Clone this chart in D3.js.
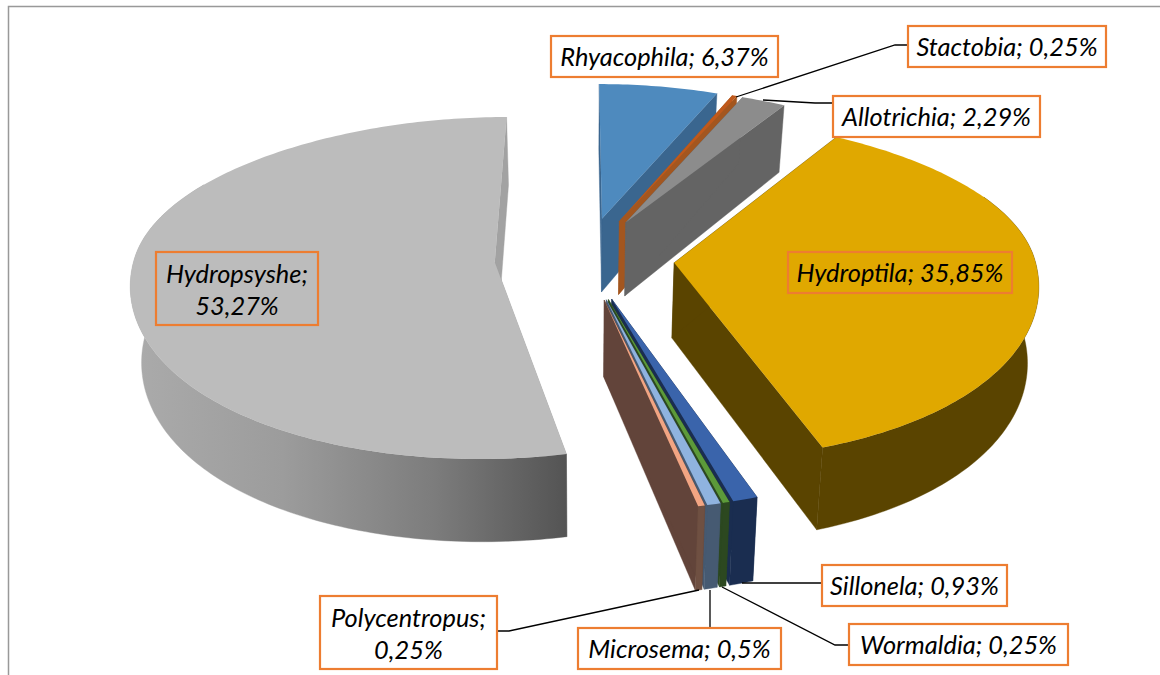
<!DOCTYPE html>
<html><head><meta charset="utf-8">
<script src="https://cdn.jsdelivr.net/npm/d3@7/dist/d3.min.js"></script>
<style>html,body{margin:0;padding:0;background:#fff}svg{display:block}</style>
</head><body><svg id="c" width="1160" height="675"></svg>
<script>
const names=["Rhyacophila","Stactobia","Allotrichia","Hydroptila","Sillonela","Wormaldia","Microsema","Polycentropus","Hydropsyshe"];
const values=[6.37,0.25,2.29,35.85,0.93,0.25,0.5,0.25,53.27];
const valueLabels=["6,37%","0,25%","2,29%","35,85%","0,93%","0,25%","0,5%","0,25%","53,27%"];
const topColors=["#4E8ABE","#C0591B","#8C8C8C","#E0A800","#3A64AB","#5C9A3A","#8FB3DF","#F2A583","#BCBCBC"];
const sideColors=["#3A668F","#A3561F","#646464","#5A4400","#1A2D50","#2C4820","#465A72","#6F5042","url(#hg)"];
const wallColors=["#3A668F","#A3561F","#646464","#5A4400","#1A2D50","#2C4820","#465A72","#62443A","#A2A2A2"];
const drawOrder=[8,0,1,2,3,4,5,6,7];
// label boxes: [x,y,w,h], separate from the data
const boxes=[[551,36,227,41],[908,26,198,41],[833,96,207,41],[788,252,224,41],[822,565,185,41],[849,624,219,41],[578,628,203,41],[320,596,177,73],[156,252,162,73]];
const twoLine=[false,false,false,false,false,false,false,true,true];
const leaders=[null,[[908,45],[895,45],[736,97]],[[833,103],[815,103],[763,100]],null,[[822,583],[742,583]],[[849,645],[835,645],[722,587]],[[710,628],[710,590]],[[497,631],[509,631],[699,590]],null];

const cx=584.5,cy=258,R=360.5,explode=90,k=0.46,p=0.15,h=75,zShrink=0.025;
const rad=d=>d*Math.PI/180, frontFrom=rad(65), frontTo=rad(300);
const persp=(V,q)=>1/(1-q*V/R);
const sxOf=V=>{const u=V/R;return 1+0.094*u+(V<0?-0.04:0.07)*u*u;};
function proj(X,V,z){ // z: 0 top surface, 1 bottom surface
  return [cx+X*sxOf(V)*(1-zShrink*z), cy+k*V*persp(V,p)+z*h*(1+0.1*V/R)];
}
const svg=d3.select("#c");
const defs=svg.append("defs");
const g=defs.append("linearGradient").attr("id","hg").attr("gradientUnits","userSpaceOnUse")
  .attr("x1",130).attr("x2",566).attr("y1",0).attr("y2",0);
[[0,"#ABABAB"],[0.35,"#9C9C9C"],[0.7,"#7C7C7C"],[1,"#545454"]].forEach(d=>g.append("stop").attr("offset",d[0]).attr("stop-color",d[1]));

svg.append("path").attr("d","M8.5,675V6.5H1160").attr("fill","none").attr("stroke","#999").attr("stroke-width",1.5);

const arcs=d3.pie().sort(null).value(d=>d)(values);
const line=d3.line();
const pg=pts=>line(pts)+"Z";
const layer=svg.append("g");
drawOrder.forEach(i=>{
  const a=arcs[i],mid=(a.startAngle+a.endAngle)/2;
  const ox=explode*Math.sin(mid),ov=-explode*Math.cos(mid);
  const n=Math.max(3,Math.ceil((a.endAngle-a.startAngle)*60));
  const ang=d3.range(n+1).map(j=>d3.interpolateNumber(a.startAngle,a.endAngle)(j/n));
  const pt=(t,z)=>proj(ox+R*Math.sin(t),ov-R*Math.cos(t),z);
  const rt=ang.map(t=>pt(t,0));
  const apex=z=>proj(ox,ov,z);
  const G=layer.append("g").attr("class","slice").attr("data-name",names[i]);
  // radial walls
  G.append("path").attr("d",pg([apex(0),pt(a.endAngle,0),pt(a.endAngle,1),apex(1)])).attr("fill",wallColors[i]).attr("stroke",wallColors[i]).attr("stroke-width",0.4);
  G.append("path").attr("d",pg([apex(0),pt(a.startAngle,0),pt(a.startAngle,1),apex(1)])).attr("fill",wallColors[i]).attr("stroke",wallColors[i]).attr("stroke-width",0.4);
  // outer wall: only the part of the rim that faces the viewer
  const fr=ang.filter(t=>t>=frontFrom&&t<=frontTo);
  if(fr.length>1){
    G.append("path").attr("d",pg(fr.map(t=>pt(t,0)).concat(fr.slice().reverse().map(t=>pt(t,1))))).attr("fill",sideColors[i]).attr("stroke",sideColors[i]).attr("stroke-width",0.4);
  }
  // top
  G.append("path").attr("d",pg([apex(0)].concat(rt))).attr("fill",topColors[i]);
});

leaders.forEach(l=>{ if(l) svg.append("path").attr("d",line(l)).attr("fill","none").attr("stroke","#000").attr("stroke-width",1.3);});

names.forEach((nm,i)=>{
  const b=boxes[i];
  svg.append("rect").attr("x",b[0]).attr("y",b[1]).attr("width",b[2]).attr("height",b[3])
    .attr("fill",(i===3||i===8)?"none":"#fff").attr("stroke","#ED7D31").attr("stroke-width",2.2);
  const t=svg.append("text").attr("text-anchor","middle").attr("font-family","Lato, sans-serif")
    .attr("font-style","italic").attr("font-size",25.4).attr("fill","#000");
  const xm=b[0]+b[2]/2;
  if(twoLine[i]){
    t.append("tspan").attr("x",xm).attr("y",b[1]+31).text(nm+";");
    t.append("tspan").attr("x",xm).attr("y",b[1]+63).text(valueLabels[i]);
  } else {
    t.append("tspan").attr("x",xm).attr("y",b[1]+30).text(nm+"; "+valueLabels[i]);
  }
});
</script></body></html>
